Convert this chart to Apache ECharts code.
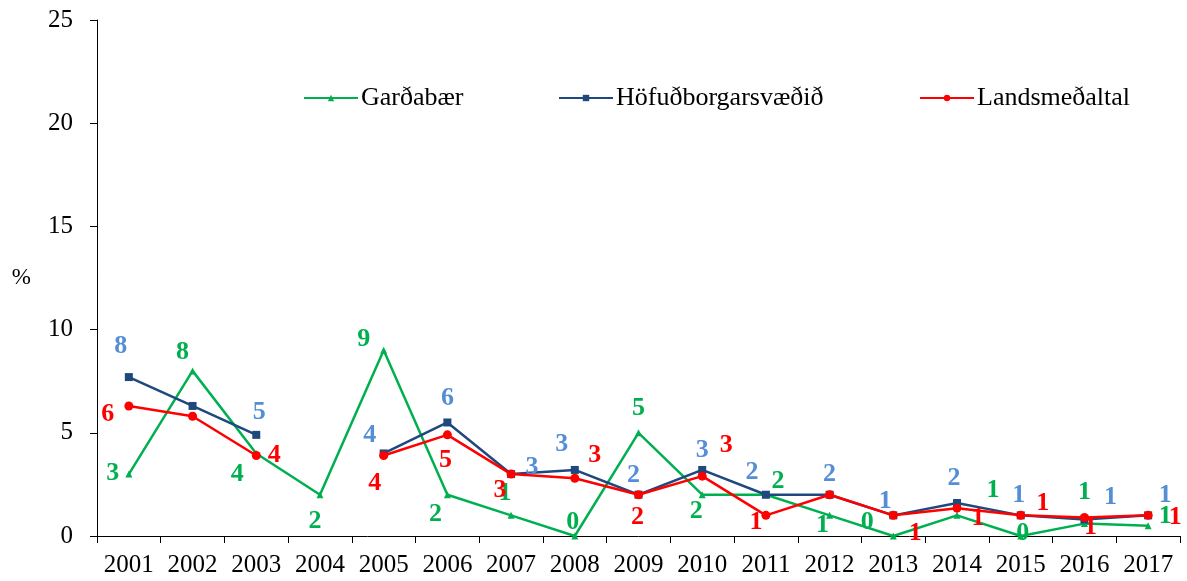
<!DOCTYPE html>
<html>
<head>
<meta charset="utf-8">
<script src="https://cdn.jsdelivr.net/npm/echarts@6/dist/echarts.min.js"></script>
<style>
  html, body { margin: 0; padding: 0; background: #fff; }
  #chart { width: 1187px; height: 581px; }
</style>
</head>
<body>
<div id="chart"></div>
<script>
const years = ['2001', '2002', '2003', '2004', '2005', '2006', '2007', '2008', '2009',
  '2010', '2011', '2012', '2013', '2014', '2015', '2016', '2017']

const gardabaer = [3.0, 8.0, 4.0, 2.0, 9.0, 2.0, 1.0, 0.0, 5.0, 2.0, 2.0, 1.0, 0.0, 1.0, 0.0, 0.6, 0.5]
const hofudborg = [7.7, 6.3, 4.9, null, 4.0, 5.5, 3.0, 3.2, 2.0, 3.2, 2.0, 2.0, 1.0, 1.6, 1.0, 0.8, 1.0]
const landsmedal = [6.3, 5.8, 3.9, null, 3.9, 4.9, 3.0, 2.8, 2.0, 2.9, 1.0, 2.0, 1.0, 1.35, 1.0, 0.9, 1.0]

// where each value label sits, relative to its point (null = no label)
const greenLabelPos = [[-16, -1], [-10, -19], [-19, 21], [-5, 27], [-20, -11], [-12, 20], [-6, -22], [-2, -14],
  [0, -25], [-6, 17], [12, -13], [-7, 10], [-26, -14], [36, -25], [2, -3], [0, -31], [17, -9]]
const blueLabelPos = [[-8, -31], null, [3, -23], null, [-14, -18], [0, -24], [21, -7], [-13, -26],
  [-5, -19], [0, -20], [-14, -22], [0, -20], [-8, -14], [-3, -25], [-2, -20], [26, -22], [17, -20]]
const redLabelPos = [[-21, 8], null, [18, 0], null, [-9, 28], [-2, 25], [-11, 16], [20, -23],
  [-1, 23], [24, -31], [-10, 7], null, [22, 18], [21, 10], [22, -12], [6, 10], [27, 2]]

const font = 'Liberation Serif, Times New Roman, serif'

function buildData(values, positions, color) {
  return values.map((v, i) => {
    const p = positions[i]
    return {
      value: v,
      label: p ? { show: true, offset: p, color: color } : { show: false }
    }
  })
}

function makeSeries(name, values, positions, lineColor, labelColor, symbol, size) {
  return {
    name: name,
    type: 'line',
    data: buildData(values, positions, labelColor),
    symbol: symbol,
    symbolSize: size,
    connectNulls: false,
    animation: false,
    lineStyle: { color: lineColor, width: 2.5 },
    itemStyle: { color: lineColor },
    label: {
      show: true,
      position: 'inside',
      fontFamily: font,
      fontWeight: 'bold',
      fontSize: 26,
      formatter: p => Math.round(p.value)
    }
  }
}

const chart = echarts.init(document.getElementById('chart'))
chart.setOption({
  backgroundColor: '#fff',
  textStyle: { fontFamily: font },
  grid: { left: 97, right: 7, top: 20, bottom: 45 },
  legend: [
    { data: ['Garðabær'], left: 298, top: 80 },
    { data: ['Höfuðborgarsvæðið'], left: 553, top: 80 },
    { data: ['Landsmeðaltal'], left: 914, top: 80 }
  ].map(l => Object.assign(l, {
    itemWidth: 54,
    itemHeight: 8,
    itemGap: 5,
    textStyle: { fontFamily: font, fontSize: 26, color: '#000', padding: [0, 0, 0, -2] }
  })),
  xAxis: {
    type: 'category',
    data: years,
    boundaryGap: true,
    axisLine: { lineStyle: { color: '#000', width: 1 } },
    axisTick: { show: true, length: 7, lineStyle: { color: '#000' } },
    axisLabel: { color: '#000', fontSize: 25, fontFamily: font, margin: 17, interval: 0 }
  },
  yAxis: {
    type: 'value',
    min: 0,
    max: 25,
    interval: 5,
    name: '%',
    nameLocation: 'middle',
    nameRotate: 0,
    nameGap: 66,
    nameTextStyle: { color: '#000', fontSize: 23, fontFamily: font },
    axisLine: { show: true, lineStyle: { color: '#000', width: 1 } },
    axisTick: { show: true, length: 7, lineStyle: { color: '#000' } },
    axisLabel: { color: '#000', fontSize: 25, fontFamily: font, margin: 24 },
    splitLine: { show: false }
  },
  series: [
    makeSeries('Garðabær', gardabaer, greenLabelPos, '#00B050', '#00B050', 'triangle', 7),
    makeSeries('Höfuðborgarsvæðið', hofudborg, blueLabelPos, '#1F497D', '#558ED5', 'rect', 8),
    makeSeries('Landsmeðaltal', landsmedal, redLabelPos, '#FF0000', '#FF0000', 'circle', 9)
  ]
})
</script>
</body>
</html>
